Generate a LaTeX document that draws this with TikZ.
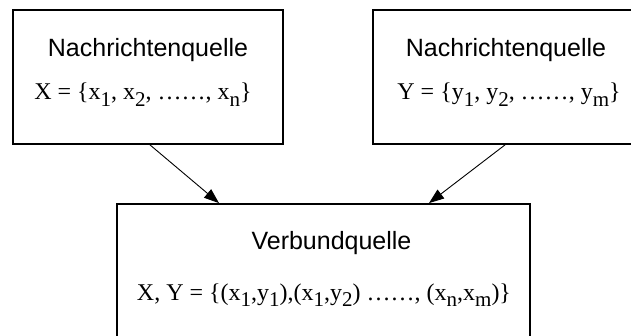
\documentclass[tikz,border=0pt]{standalone}
\usepackage{fontspec}
\setmainfont{Liberation Serif}
\newfontfamily\titlefont{Liberation Sans}
\usetikzlibrary{arrows.meta}
\newcommand\mysub[1]{\raisebox{-0.27em}{\fontsize{21}{21}\selectfont #1}}
\tikzset{
  box/.style={draw, line width=1.8pt, rectangle, inner sep=0pt},
  ttl/.style={anchor=base, inner sep=0pt, font=\titlefont\fontsize{25}{25}\selectfont},
  frm/.style={anchor=base, inner sep=0pt, font=\fontsize{24}{24}\selectfont},
  conn/.style={line width=0.9pt, -{Triangle[length=15pt,width=11pt]}}
}
\begin{document}
\begin{tikzpicture}[x=1pt,y=1pt]
\useasboundingbox (0,0) rectangle (631,-336);
\clip (0,0) rectangle (631,-336);
\node[box, minimum width=270pt, minimum height=134pt] (L) at (148,-77) {};
\node[box, minimum width=266pt, minimum height=134pt] (R) at (506,-77) {};
\node[box, minimum width=413pt, minimum height=142pt] (B) at (323.5,-275) {};
\node[ttl] (Lt) at (148,-57) {Nachrichtenquelle};
\node[frm] (Lf) at (143,-100) {X = \{x\mysub{1}, x\mysub{2}, ……, x\mysub{n}\}};
\node[ttl] (Rt) at (506,-57) {Nachrichtenquelle};
\node[frm] (Rf) at (509,-100) {Y = \{y\mysub{1}, y\mysub{2}, ……, y\mysub{m}\}};
\node[ttl] (Bt) at (331.5,-250) {Verbundquelle};
\node[frm] (Bf) at (324,-300) {X, Y = \{(x\mysub{1},y\mysub{1}),(x\mysub{1},y\mysub{2}) ……, (x\mysub{n},x\mysub{m})\}};
\coordinate (Ls) at ([xshift=2pt]L.south);
\coordinate (Rs) at ([xshift=-1pt]R.south);
\coordinate (Bl) at ([xshift=-104.5pt]B.north);
\coordinate (Br) at ([xshift=105.5pt]B.north);
\draw[conn] (Ls) -- (Bl);
\draw[conn] (Rs) -- (Br);
\end{tikzpicture}
\end{document}
